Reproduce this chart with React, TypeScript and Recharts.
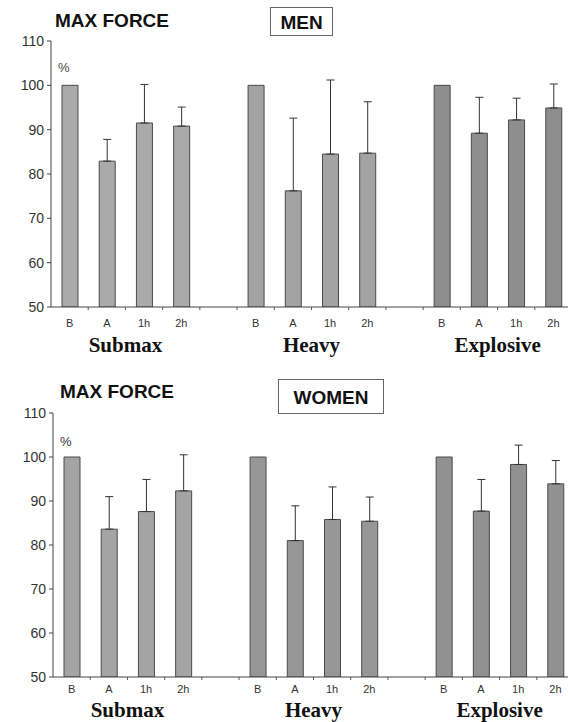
import React from 'react'
import { BarChart, Bar, XAxis, YAxis, Cell, ErrorBar } from 'recharts'

// 14 slots: 3 groups of 4 with an empty slot between groups
const SLOT_LABELS = ['B', 'A', '1h', '2h', '', 'B', 'A', '1h', '2h', '', 'B', 'A', '1h', '2h']
const SLOT_GROUP = [0, 0, 0, 0, -1, 1, 1, 1, 1, -1, 2, 2, 2, 2]
const GROUP_NAMES = ['Submax', 'Heavy', 'Explosive']
const Y_TICKS = [50, 60, 70, 80, 90, 100, 110]

const MEN_MEAN = [100, 82.9, 91.5, 90.8, null, 100, 76.2, 84.5, 84.7, null, 100, 89.2, 92.2, 94.9]
const MEN_SD = [null, 4.9, 8.7, 4.3, null, null, 16.4, 16.7, 11.6, null, null, 8.1, 4.9, 5.4]
const MEN_COLORS = ['#aaaaaa', '#a3a3a3', '#8e8e8e']

const WOMEN_MEAN = [100, 83.6, 87.6, 92.3, null, 100, 81.0, 85.8, 85.4, null, 100, 87.7, 98.3, 93.9]
const WOMEN_SD = [null, 7.4, 7.3, 8.2, null, null, 7.9, 7.4, 5.5, null, null, 7.2, 4.4, 5.3]
const WOMEN_COLORS = ['#a4a4a4', '#979797', '#919191']

const CHART_W = 580
const SANS = '"Liberation Sans", Arial, sans-serif'
const SERIF = '"Liberation Serif", "Times New Roman", serif'

const buildRows = (mean: (number | null)[], sd: (number | null)[]) =>
  SLOT_LABELS.map((label, i) => ({
    key: `s${i}`,
    label,
    value: mean[i],
    err: sd[i] == null ? null : [0, sd[i]],
  }))

interface PanelProps {
  rows: ReturnType<typeof buildRows>
  colors: string[]
  left: number
  top: number
  bottom: number
  right: number
  labelGap: number
  groupGap: number
}

const Panel: React.FC<PanelProps> = ({ rows, colors, left, top, bottom, right, labelGap, groupGap }) => {
  const slot = (CHART_W - left - right) / SLOT_LABELS.length

  const SlotTick = (props: any) => {
    const { x, y, payload } = props
    const i = payload.index
    return (
      <g>
        <line x1={x + slot / 2} x2={x + slot / 2} y1={y} y2={y + 3} stroke="#555" strokeWidth={1} />
        <text x={x} y={y + labelGap} textAnchor="middle" fontSize={11} fontFamily={SANS} fill="#333">
          {SLOT_LABELS[i]}
        </text>
        {SLOT_LABELS[i] === 'A' && (
          <text
            x={x + slot / 2}
            y={y + groupGap}
            textAnchor="middle"
            fontSize={21}
            fontWeight="bold"
            fontFamily={SERIF}
            fill="#111"
          >
            {GROUP_NAMES[SLOT_GROUP[i]]}
          </text>
        )}
      </g>
    )
  }

  return (
    <BarChart
      width={CHART_W}
      height={360}
      data={rows}
      margin={{ top, right, bottom, left: 0 }}
      barSize={16}
    >
      <YAxis
        type="number"
        domain={[50, 110]}
        ticks={Y_TICKS}
        allowDataOverflow
        width={left}
        tickSize={4}
        tickMargin={3}
        axisLine={{ stroke: '#444' }}
        tickLine={{ stroke: '#444' }}
        tick={{ fontSize: 14, fontFamily: SANS, fill: '#333' }}
      />
      <XAxis
        dataKey="key"
        height={20}
        interval={0}
        tickSize={0}
        tickMargin={0}
        tickLine={false}
        axisLine={{ stroke: '#444' }}
        tick={<SlotTick />}
      />
      <Bar dataKey="value" stroke="#4a4a4a" strokeWidth={1} isAnimationActive={false}>
        {rows.map((r, i) => (
          <Cell key={r.key} fill={colors[Math.max(0, SLOT_GROUP[i])]} />
        ))}
        <ErrorBar dataKey="err" width={4} stroke="#333" strokeWidth={1} direction="y" />
      </Bar>
    </BarChart>
  )
}

const App: React.FC = () => {
  const menRows = buildRows(MEN_MEAN, MEN_SD)
  const womenRows = buildRows(WOMEN_MEAN, WOMEN_SD)

  return (
    <div
      style={{
        position: 'absolute',
        left: 0,
        top: 0,
        width: 568,
        height: 722,
        overflow: 'hidden',
        background: '#fff',
      }}
    >
      <div style={{ position: 'absolute', left: 0, top: 0 }}>
        <Panel rows={menRows} colors={MEN_COLORS} left={51} top={41} bottom={33} right={8} labelGap={20} groupGap={45} />
      </div>
      <div style={{ position: 'absolute', left: 0, top: 362 }}>
        <Panel rows={womenRows} colors={WOMEN_COLORS} left={53} top={51} bottom={25} right={6} labelGap={16} groupGap={40} />
      </div>
      <svg width={568} height={722} style={{ position: 'absolute', left: 0, top: 0, pointerEvents: 'none' }}>
        <g fontFamily={SANS} fontWeight="bold" fill="#111">
          <text x={55} y={27} fontSize={19}>MAX FORCE</text>
          <rect x={270.5} y={7.5} width={62} height={28} fill="#fff" stroke="#666" />
          <text x={301.5} y={29} fontSize={19} textAnchor="middle">MEN</text>
          <text x={60} y={398} fontSize={19}>MAX FORCE</text>
          <rect x={278.5} y={379.5} width={105} height={34} fill="#fff" stroke="#666" />
          <text x={331} y={404} fontSize={19} textAnchor="middle">WOMEN</text>
        </g>
        <text x={58} y={72} fontSize={13} fontFamily={SANS} fill="#444">%</text>
        <text x={60} y={446} fontSize={13} fontFamily={SANS} fill="#333">%</text>
      </svg>
    </div>
  )
}

export default App
